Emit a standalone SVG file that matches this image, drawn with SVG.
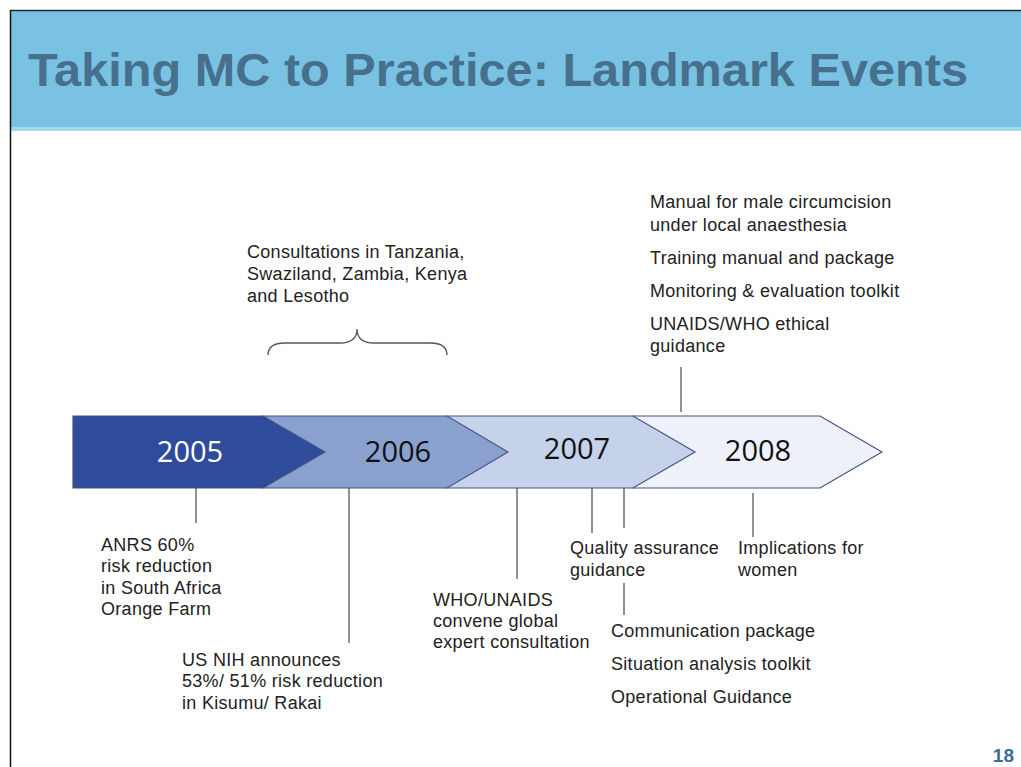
<svg xmlns="http://www.w3.org/2000/svg" width="1021" height="767" viewBox="0 0 1021 767">
<style>
.lbl{font-family:"Liberation Sans",Arial,sans-serif;font-size:18px;letter-spacing:0.3px;fill:#222}
.yr{font-family:"Open Sans","Noto Sans",sans-serif;font-size:29px;text-anchor:middle}
.seg{stroke:#44557f;stroke-width:1.2}
.ln{stroke:#555;stroke-width:1.3;fill:none}
</style>
<rect x="0" y="0" width="1021" height="767" fill="#fff"/>
<rect x="10" y="10" width="1011" height="119" fill="#7ac2e4"/>
<rect x="10" y="127" width="1011" height="4" fill="#a9d8ee"/>
<line x1="10" y1="10.5" x2="1021" y2="10.5" stroke="#1a2a33" stroke-width="1.5"/>
<line x1="10.5" y1="10" x2="10.5" y2="767" stroke="#111" stroke-width="1.5"/>
<text x="28" y="86" font-family="Liberation Sans,Arial,sans-serif" font-weight="bold" font-size="47" fill="#47708d" textLength="940" lengthAdjust="spacingAndGlyphs">Taking MC to Practice: Landmark Events</text>
<g id="timeline">
<g id="y2008"><polygon class="seg" points="633,416 820,416 882,452 820,488 633,488" fill="#eef1f9" stroke="#888"/><text class="yr" x="758" y="461" fill="#111">2008</text></g>
<g id="y2007"><polygon class="seg" points="447,416 633,416 695,452 633,488 447,488" fill="#c6d1ea"/><text class="yr" x="577" y="459" fill="#111">2007</text></g>
<g id="y2006"><polygon class="seg" points="263,416 447,416 508,452 447,488 263,488" fill="#8aa1d0"/><text class="yr" x="398" y="462" fill="#111">2006</text></g>
<g id="y2005"><polygon class="seg" points="73,416 263,416 325,452 263,488 73,488" fill="#2f4b9b"/><text class="yr" x="190" y="462" fill="#fff">2005</text></g>
</g>
<g id="connectors">
<line class="ln" x1="196" y1="488" x2="196" y2="523"/>
<line class="ln" x1="349" y1="488" x2="349" y2="643"/>
<line class="ln" x1="517" y1="488" x2="517" y2="579"/>
<line class="ln" x1="592" y1="488" x2="592" y2="533"/>
<line class="ln" x1="624" y1="488" x2="624" y2="528"/>
<line class="ln" x1="624" y1="583" x2="624" y2="615"/>
<line class="ln" x1="753" y1="493" x2="753" y2="537"/>
<line class="ln" x1="681" y1="367" x2="681" y2="412"/>
<path class="ln" d="M268,355 Q268,343 285,343 L340,343 Q357,343 357,329 Q357,343 374,343 L430,343 Q447,343 447,355"/>
</g>
<g id="consultations"><text class="lbl" x="247" y="258">Consultations in Tanzania,</text><text class="lbl" x="247" y="280">Swaziland, Zambia, Kenya</text><text class="lbl" x="247" y="302">and Lesotho</text></g>
<g id="tools2008"><text class="lbl" x="650" y="208">Manual for male circumcision</text><text class="lbl" x="650" y="231">under local anaesthesia</text><text class="lbl" x="650" y="264">Training manual and package</text><text class="lbl" x="650" y="297">Monitoring &amp; evaluation toolkit</text><text class="lbl" x="650" y="330">UNAIDS/WHO ethical</text><text class="lbl" x="650" y="352">guidance</text></g>
<g id="anrs"><text class="lbl" x="101" y="551">ANRS 60%</text><text class="lbl" x="101" y="572">risk reduction</text><text class="lbl" x="101" y="594">in South Africa</text><text class="lbl" x="101" y="615">Orange Farm</text></g>
<g id="nih"><text class="lbl" x="182" y="666">US NIH announces</text><text class="lbl" x="182" y="687">53%/ 51% risk reduction</text><text class="lbl" x="182" y="709">in Kisumu/ Rakai</text></g>
<g id="who"><text class="lbl" x="433" y="606">WHO/UNAIDS</text><text class="lbl" x="433" y="627">convene global</text><text class="lbl" x="433" y="648">expert consultation</text></g>
<g id="quality"><text class="lbl" x="570" y="554">Quality assurance</text><text class="lbl" x="570" y="576">guidance</text></g>
<g id="women"><text class="lbl" x="738" y="554">Implications for</text><text class="lbl" x="738" y="576">women</text></g>
<g id="tools2007"><text class="lbl" x="611" y="637">Communication package</text><text class="lbl" x="611" y="670">Situation analysis toolkit</text><text class="lbl" x="611" y="703">Operational Guidance</text></g>
<text x="1014" y="762" text-anchor="end" font-family="Liberation Sans,Arial,sans-serif" font-weight="bold" font-size="19" fill="#3a6f8f">18</text>
</svg>
